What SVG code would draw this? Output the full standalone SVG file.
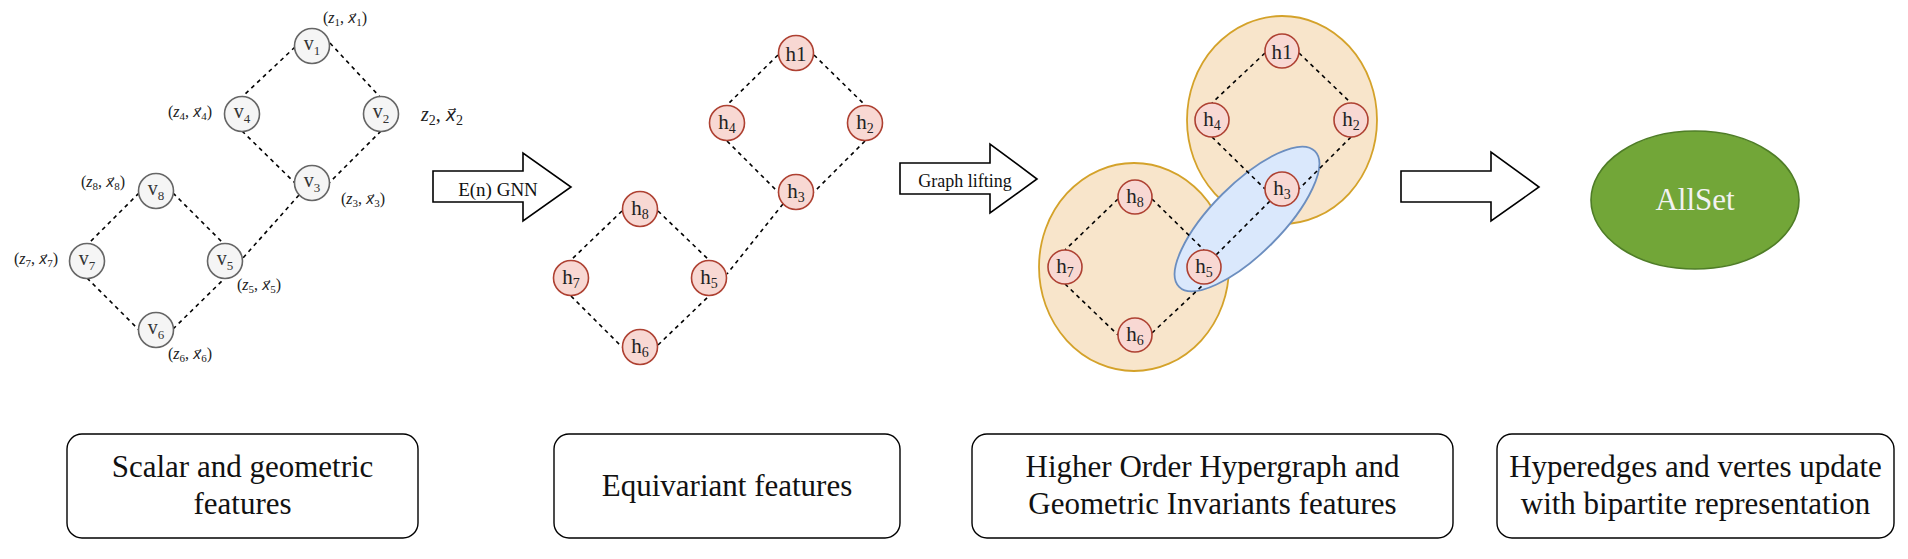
<svg xmlns="http://www.w3.org/2000/svg" width="1908" height="559" viewBox="0 0 1908 559">
<style>
.bg{fill:#ffffff}
.v circle{fill:#f5f5f5;stroke:#666666;stroke-width:1.6}
.h circle{fill:#f8d8d3;stroke:#ae4132;stroke-width:1.6}
.lbl{font-family:"Liberation Serif","DejaVu Serif",serif;fill:#333333;text-anchor:middle}
.hl{font-family:"Liberation Serif","DejaVu Serif",serif;fill:#222222;text-anchor:middle}
.math{font-family:"Liberation Serif","DejaVu Serif",serif;fill:#222222;font-size:16px;text-anchor:middle}
.math .i{font-style:italic}
.math .xv{font-family:"DejaVu Sans",sans-serif;font-style:oblique;font-size:0.85em}
.math .s{font-size:11px}
.edges line{stroke:#000000;stroke-width:1.6;stroke-dasharray:4 4;fill:none}
.barrow{fill:#ffffff;stroke:#000000;stroke-width:1.6}
.atext{font-family:"Liberation Serif","DejaVu Serif",serif;fill:#111111;text-anchor:middle}
.box rect{fill:#ffffff;stroke:#000000;stroke-width:1.4}
.box text{font-family:"Liberation Serif","DejaVu Serif",serif;font-size:31px;fill:#111111;text-anchor:middle}
.peach{fill:#f8e5cb;stroke:#d4a22a;stroke-width:1.8}
.blue{fill:#dae8fc;stroke:#6c8ebf;stroke-width:1.8}
</style>
<rect class="bg" x="0" y="0" width="1908" height="559"/>

<!-- hypergraph sets -->
<g id="hyperedge-top"><ellipse class="peach" cx="1282" cy="120" rx="95" ry="104"/></g>
<g id="hyperedge-bottom"><ellipse class="peach" cx="1134" cy="267" rx="95" ry="104"/></g>
<g id="hyperedge-blue"><ellipse class="blue" cx="1247" cy="219" rx="96" ry="35" transform="rotate(-45 1247 219)"/></g>

<g class="edges" id="connectors">
  <!-- graph 1 -->
  <line x1="295" y1="47" x2="242" y2="97"/>
  <line x1="330" y1="43" x2="380" y2="97"/>
  <line x1="242" y1="131" x2="295" y2="183"/>
  <line x1="381" y1="131" x2="329" y2="183"/>
  <line x1="299" y1="195" x2="243" y2="258"/>
  <line x1="173" y1="193" x2="224" y2="244"/>
  <line x1="139" y1="193" x2="88" y2="244"/>
  <line x1="87" y1="278" x2="139" y2="330"/>
  <line x1="173" y1="329" x2="224" y2="279"/>
  <!-- graph 2 -->
  <line x1="778" y1="55" x2="727" y2="105"/>
  <line x1="814" y1="55" x2="865" y2="105"/>
  <line x1="727" y1="141" x2="778" y2="192"/>
  <line x1="865" y1="141" x2="814" y2="192"/>
  <line x1="783" y1="204" x2="727" y2="274"/>
  <line x1="658" y1="211" x2="709" y2="260"/>
  <line x1="622" y1="211" x2="571" y2="260"/>
  <line x1="571" y1="296" x2="622" y2="347"/>
  <line x1="658" y1="345" x2="709" y2="296"/>
  <!-- graph 3 -->
  <line x1="1265" y1="53" x2="1212" y2="103"/>
  <line x1="1299" y1="53" x2="1351" y2="103"/>
  <line x1="1212" y1="137" x2="1265" y2="189"/>
  <line x1="1351" y1="137" x2="1299" y2="189"/>
  <line x1="1270" y1="201" x2="1216" y2="255"/>
  <line x1="1152" y1="199" x2="1204" y2="250"/>
  <line x1="1118" y1="199" x2="1065" y2="250"/>
  <line x1="1065" y1="284" x2="1118" y2="335"/>
  <line x1="1152" y1="333" x2="1204" y2="284"/>
</g>

<!-- graph 1 nodes -->
<g class="v" id="v1"><circle cx="312" cy="46" r="17.5"/><text class="lbl" x="312" y="50"><tspan font-size="20">v</tspan><tspan font-size="13" dy="5">1</tspan></text></g>
<g class="v" id="v2"><circle cx="381" cy="114" r="17.5"/><text class="lbl" x="381" y="118"><tspan font-size="20">v</tspan><tspan font-size="13" dy="5">2</tspan></text></g>
<g class="v" id="v3"><circle cx="312" cy="183" r="17.5"/><text class="lbl" x="312" y="187"><tspan font-size="20">v</tspan><tspan font-size="13" dy="5">3</tspan></text></g>
<g class="v" id="v4"><circle cx="242" cy="114" r="17.5"/><text class="lbl" x="242" y="118"><tspan font-size="20">v</tspan><tspan font-size="13" dy="5">4</tspan></text></g>
<g class="v" id="v5"><circle cx="225" cy="261" r="17.5"/><text class="lbl" x="225" y="265"><tspan font-size="20">v</tspan><tspan font-size="13" dy="5">5</tspan></text></g>
<g class="v" id="v6"><circle cx="156" cy="330" r="17.5"/><text class="lbl" x="156" y="334"><tspan font-size="20">v</tspan><tspan font-size="13" dy="5">6</tspan></text></g>
<g class="v" id="v7"><circle cx="87" cy="261" r="17.5"/><text class="lbl" x="87" y="265"><tspan font-size="20">v</tspan><tspan font-size="13" dy="5">7</tspan></text></g>
<g class="v" id="v8"><circle cx="156" cy="191" r="17.5"/><text class="lbl" x="156" y="195"><tspan font-size="20">v</tspan><tspan font-size="13" dy="5">8</tspan></text></g>

<!-- math labels -->
<g id="labels">
<text class="math" x="345" y="23">(<tspan class="i">z</tspan><tspan class="s" dy="3">1</tspan><tspan dy="-3">, </tspan><tspan class="xv">x⃗</tspan><tspan class="s" dy="3">1</tspan><tspan dy="-3">)</tspan></text>
<text class="math" x="190" y="117">(<tspan class="i">z</tspan><tspan class="s" dy="3">4</tspan><tspan dy="-3">, </tspan><tspan class="xv">x⃗</tspan><tspan class="s" dy="3">4</tspan><tspan dy="-3">)</tspan></text>
<text class="math" x="442" y="121" style="font-size:20px"><tspan class="i">z</tspan><tspan font-size="14" dy="4">2</tspan><tspan dy="-4">, </tspan><tspan class="xv">x⃗</tspan><tspan font-size="14" dy="4">2</tspan></text>
<text class="math" x="363" y="204">(<tspan class="i">z</tspan><tspan class="s" dy="3">3</tspan><tspan dy="-3">, </tspan><tspan class="xv">x⃗</tspan><tspan class="s" dy="3">3</tspan><tspan dy="-3">)</tspan></text>
<text class="math" x="103" y="187">(<tspan class="i">z</tspan><tspan class="s" dy="3">8</tspan><tspan dy="-3">, </tspan><tspan class="xv">x⃗</tspan><tspan class="s" dy="3">8</tspan><tspan dy="-3">)</tspan></text>
<text class="math" x="36" y="264">(<tspan class="i">z</tspan><tspan class="s" dy="3">7</tspan><tspan dy="-3">, </tspan><tspan class="xv">x⃗</tspan><tspan class="s" dy="3">7</tspan><tspan dy="-3">)</tspan></text>
<text class="math" x="259" y="290">(<tspan class="i">z</tspan><tspan class="s" dy="3">5</tspan><tspan dy="-3">, </tspan><tspan class="xv">x⃗</tspan><tspan class="s" dy="3">5</tspan><tspan dy="-3">)</tspan></text>
<text class="math" x="190" y="359">(<tspan class="i">z</tspan><tspan class="s" dy="3">6</tspan><tspan dy="-3">, </tspan><tspan class="xv">x⃗</tspan><tspan class="s" dy="3">6</tspan><tspan dy="-3">)</tspan></text>
</g>

<!-- graph 2 nodes -->
<g class="h" id="g2-h1"><circle cx="796" cy="53" r="17.5"/><text class="hl" x="796" y="61" font-size="21">h1</text></g>
<g class="h" id="g2-h2"><circle cx="865" cy="123" r="17.5"/><text class="hl" x="865" y="129"><tspan font-size="21">h</tspan><tspan font-size="14" dy="4">2</tspan></text></g>
<g class="h" id="g2-h3"><circle cx="796" cy="192" r="17.5"/><text class="hl" x="796" y="198"><tspan font-size="21">h</tspan><tspan font-size="14" dy="4">3</tspan></text></g>
<g class="h" id="g2-h4"><circle cx="727" cy="123" r="17.5"/><text class="hl" x="727" y="129"><tspan font-size="21">h</tspan><tspan font-size="14" dy="4">4</tspan></text></g>
<g class="h" id="g2-h5"><circle cx="709" cy="278" r="17.5"/><text class="hl" x="709" y="284"><tspan font-size="21">h</tspan><tspan font-size="14" dy="4">5</tspan></text></g>
<g class="h" id="g2-h6"><circle cx="640" cy="347" r="17.5"/><text class="hl" x="640" y="353"><tspan font-size="21">h</tspan><tspan font-size="14" dy="4">6</tspan></text></g>
<g class="h" id="g2-h7"><circle cx="571" cy="278" r="17.5"/><text class="hl" x="571" y="284"><tspan font-size="21">h</tspan><tspan font-size="14" dy="4">7</tspan></text></g>
<g class="h" id="g2-h8"><circle cx="640" cy="209" r="17.5"/><text class="hl" x="640" y="215"><tspan font-size="21">h</tspan><tspan font-size="14" dy="4">8</tspan></text></g>

<!-- graph 3 nodes -->
<g class="h" id="g3-h1"><circle cx="1282" cy="51" r="17"/><text class="hl" x="1282" y="59" font-size="21">h1</text></g>
<g class="h" id="g3-h2"><circle cx="1351" cy="120" r="17"/><text class="hl" x="1351" y="126"><tspan font-size="21">h</tspan><tspan font-size="14" dy="4">2</tspan></text></g>
<g class="h" id="g3-h3"><circle cx="1282" cy="189" r="17"/><text class="hl" x="1282" y="195"><tspan font-size="21">h</tspan><tspan font-size="14" dy="4">3</tspan></text></g>
<g class="h" id="g3-h4"><circle cx="1212" cy="120" r="17"/><text class="hl" x="1212" y="126"><tspan font-size="21">h</tspan><tspan font-size="14" dy="4">4</tspan></text></g>
<g class="h" id="g3-h5"><circle cx="1204" cy="267" r="17"/><text class="hl" x="1204" y="273"><tspan font-size="21">h</tspan><tspan font-size="14" dy="4">5</tspan></text></g>
<g class="h" id="g3-h6"><circle cx="1135" cy="335" r="17"/><text class="hl" x="1135" y="341"><tspan font-size="21">h</tspan><tspan font-size="14" dy="4">6</tspan></text></g>
<g class="h" id="g3-h7"><circle cx="1065" cy="267" r="17"/><text class="hl" x="1065" y="273"><tspan font-size="21">h</tspan><tspan font-size="14" dy="4">7</tspan></text></g>
<g class="h" id="g3-h8"><circle cx="1135" cy="197" r="17"/><text class="hl" x="1135" y="203"><tspan font-size="21">h</tspan><tspan font-size="14" dy="4">8</tspan></text></g>

<!-- block arrows -->
<g id="arrow-egnn"><polygon class="barrow" points="433,171 523,171 523,153 571,187 523,221 523,202 433,202"/><text class="atext" x="498" y="196" font-size="19">E(n) GNN</text></g>
<g id="arrow-lifting"><polygon class="barrow" points="900,163 990,163 990,144 1037,179 990,213 990,194 900,194"/><text class="atext" x="965" y="187" font-size="18">Graph lifting</text></g>
<g id="arrow-allset"><polygon class="barrow" points="1401,171 1491,171 1491,152 1539,187 1491,221 1491,202 1401,202"/></g>

<g id="allset"><ellipse cx="1695" cy="200" rx="104" ry="69" fill="#72a638" stroke="#4f7d27" stroke-width="1.6"/><text x="1695" y="210" font-family="Liberation Serif, DejaVu Serif, serif" font-size="31" fill="#f2f2f2" text-anchor="middle">AllSet</text></g>

<!-- caption boxes -->
<g class="box" id="box-scalar"><rect x="67" y="434" width="351" height="104" rx="15"/><text x="242.5" y="477">Scalar and geometric</text><text x="242.5" y="514">features</text></g>
<g class="box" id="box-equivariant"><rect x="554" y="434" width="346" height="104" rx="15"/><text x="727" y="496">Equivariant features</text></g>
<g class="box" id="box-hypergraph"><rect x="972" y="434" width="481" height="104" rx="15"/><text x="1212.5" y="477">Higher Order Hypergraph and</text><text x="1212.5" y="514">Geometric Invariants features</text></g>
<g class="box" id="box-allset"><rect x="1497" y="434" width="397" height="104" rx="15"/><text x="1695.5" y="477">Hyperedges and vertes update</text><text x="1695.5" y="514">with bipartite representation</text></g>
</svg>
